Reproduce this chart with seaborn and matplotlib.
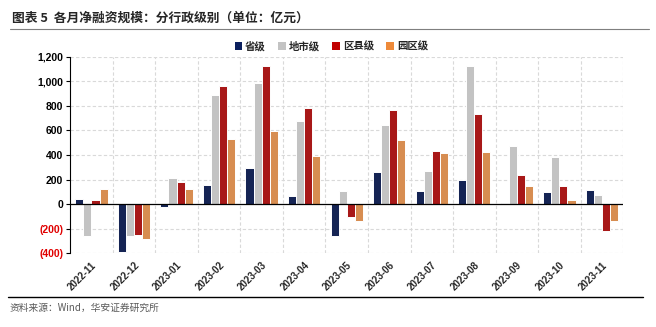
import matplotlib
matplotlib.use("Agg")
import matplotlib.pyplot as plt
import seaborn as sns
import pandas as pd
from matplotlib.patches import Patch
from matplotlib.lines import Line2D

months = ["2022-11", "2022-12", "2023-01", "2023-02", "2023-03", "2023-04", "2023-05",
          "2023-06", "2023-07", "2023-08", "2023-09", "2023-10", "2023-11"]
series_names = ["省级", "地市级", "区县级", "园区级"]
sheng = [41, -388, -20, 158, 296, 63, -258, 258, 109, 199, 8, 98, 114]
dishi = [-262, -264, 215, 889, 985, 680, 103, 647, 272, 1129, 473, 381, 76]
quxian = [35, -256, 182, 963, 1126, 783, -103, 770, 435, 737, 239, 150, -223]
yuanqu = [125, -282, 122, 530, 593, 389, -136, 525, 416, 424, 144, 33, -136]
yticks = [-400, -200, 0, 200, 400, 600, 800, 1000, 1200]
ytick_labels = ["(400)", "(200)", "0", "200", "400", "600", "800", "1,000", "1,200"]
colors = ["#0B1F5E", "#C3C3C3", "#C00000", "#EE8A3A"]

sns.set_theme(style="white")
plt.rcParams["font.family"] = ["Liberation Sans", "Noto Sans CJK SC", "DejaVu Sans"]

rows = []
for s, vals in zip(series_names, [sheng, dishi, quxian, yuanqu]):
    for m, v in zip(months, vals):
        rows.append({"month": m, "series": s, "value": v})
df = pd.DataFrame(rows)

fig = plt.figure(figsize=(6.56, 3.27), dpi=100)
ax = fig.add_axes([0.107, 0.226, 0.843, 0.600])

sns.barplot(data=df, x="month", y="value", hue="series", order=months,
            hue_order=series_names, palette=colors, width=0.76, gap=0.0,
            edgecolor="white", linewidth=0.7, ax=ax, legend=False)

ax.set_ylim(-400, 1200)
ax.set_xlim(-0.5, len(months) - 0.5)
ax.set_yticks(yticks)
ax.set_yticklabels(ytick_labels, fontsize=7.5, fontweight="bold")
for lbl, v in zip(ax.get_yticklabels(), yticks):
    lbl.set_color("#E00000" if v < 0 else "black")
ax.set_xticks(range(len(months)))
ax.set_xticklabels(months, rotation=45, ha="right", rotation_mode="anchor",
                   fontsize=7, fontweight="bold")
ax.tick_params(axis="x", length=0, pad=5)
ax.tick_params(axis="y", length=3, width=0.8, direction="out", left=True, pad=2, color="black")
ax.set_xlabel("")
ax.set_ylabel("")

# grid
for v in yticks:
    if v != 0:
        ax.axhline(v, color="#D9D9D9", lw=0.8, ls=(0, (3, 2)), zorder=0)
for i in range(len(months)):
    ax.axvline(i + 0.5, color="#D9D9D9", lw=0.8, ls=(0, (3, 2)), zorder=0)
ax.axhline(0, color="black", lw=0.9, zorder=3)

for side in ["top", "right", "bottom"]:
    ax.spines[side].set_visible(False)
ax.spines["left"].set_color("black")
ax.spines["left"].set_linewidth(0.8)

handles = [Patch(facecolor=c, edgecolor="none") for c in colors]
fig.legend(handles, series_names, loc="center", bbox_to_anchor=(0.505, 0.858), ncol=4,
           frameon=False, handlelength=0.7, handleheight=0.7,
           handletextpad=0.3, columnspacing=1.2,
           prop={"family": ["Noto Sans CJK SC"], "weight": "bold", "size": 7.5})

fig.text(0.018, 0.945, "图表 5  各月净融资规模：分行政级别（单位：亿元）", fontsize=9.2,
         fontweight="heavy", family=["Noto Sans CJK SC"], va="center")
fig.add_artist(Line2D([0.015, 0.99], [0.912, 0.912], color="#7F7F7F", lw=0.8))
fig.add_artist(Line2D([0.012, 0.98], [0.092, 0.092], color="black", lw=1.0))
fig.text(0.015, 0.06, "资料来源：Wind，华安证券研究所", fontsize=7, color="#595959",
         family=["Noto Sans CJK SC", "DejaVu Sans"], va="center")

fig.savefig("out.png", dpi=100)
